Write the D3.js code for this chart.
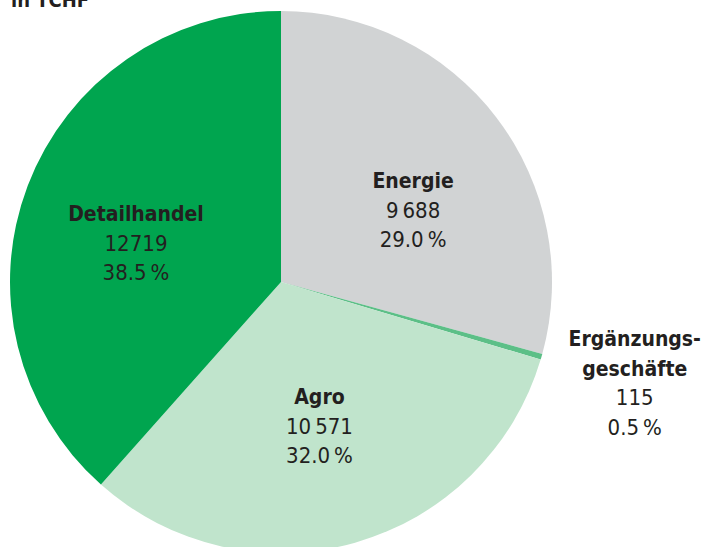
<!DOCTYPE html>
<html>
<head>
<meta charset="utf-8">
<script src="https://cdn.jsdelivr.net/npm/d3@7"></script>
<style>
  body { margin: 0; background: #fff; }
  svg text { font-family: "Liberation Sans Narrow", "DejaVu Sans Condensed", "Liberation Sans", sans-serif; fill: #231f20; }
</style>
</head>
<body>
<div class="content"></div>
<script>
const SVGWIDTH = 702
const SVGHEIGHT = 547

// data, clockwise from 12 o'clock
const categories = ["Energie", "Ergänzungsgeschäfte", "Agro", "Detailhandel"];
const labelLines = [["Energie"], ["Ergänzungs-", "geschäfte"], ["Agro"], ["Detailhandel"]];
const values = [9688, 115, 10571, 12719];
const shares = [29.0, 0.5, 32.0, 38.5];
const title = "in TCHF";

const colors = ["#d1d3d4", "#5cbf87", "#c0e4cc", "#00a54f"];

const cx = 281, cy = 282, radius = 271;
const lineH = 29.5;

const fmt = d3.formatLocale({decimal: ".", thousands: "\u2009", grouping: [3], currency: ["", ""]});
const fmtNum = v => v >= 10000 && v < 13000 && String(v).startsWith("127") ? String(v) : fmt.format(",")(v);
const fmtPct = v => d3.format(".1f")(v) + "\u2009%";

let svg = d3.select(".content").append("svg").attr("width", SVGWIDTH).attr("height", SVGHEIGHT);

// title (cut off at top in the original)
svg.append("text")
    .attr("x", 11)
    .attr("y", 7)
    .style("font-weight", "bold")
    .style("font-size", "20px")
    .text(title);

let pie = d3.pie().sort(null).value(d => d.value);
let arc = d3.arc().innerRadius(0).outerRadius(radius);

let slices = pie(categories.map((c, i) => ({name: c, value: values[i], share: shares[i], lines: labelLines[i], color: colors[i]})));

let g = svg.append("g").attr("transform", `translate(${cx},${cy})`);

g.selectAll("path")
    .data(slices)
    .join("path")
    .attr("d", arc)
    .attr("fill", d => d.data.color);

// label placement: inner labels on a ring, tiny slice outside
const innerR = 150, outerR = 368;
const angleShift = {"Energie": 9, "Agro": 1, "Detailhandel": -6, "Ergänzungsgeschäfte": 0};

let labels = g.selectAll("g.label")
    .data(slices)
    .join("g")
    .attr("class", "label")
    .attr("transform", d => {
        let small = d.data.share < 2;
        let r = small ? outerR : innerR;
        let a = (d.startAngle + d.endAngle) / 2 + angleShift[d.data.name] * Math.PI / 180;
        return `translate(${r * Math.sin(a)},${-r * Math.cos(a)})`;
    });

labels.each(function(d) {
    let rows = d.data.lines.map(t => ({t: t, bold: true}))
        .concat([{t: fmtNum(d.data.value), bold: false}, {t: fmtPct(d.data.share), bold: false}]);
    let n = rows.length;
    d3.select(this).selectAll("text")
        .data(rows)
        .join("text")
        .attr("text-anchor", "middle")
        .attr("x", 0)
        .attr("y", (r, i) => (i - (n - 1) / 2) * lineH + 7)
        .style("font-weight", r => r.bold ? "bold" : "normal")
        .style("font-size", r => r.bold ? "21px" : "22px")
        .text(r => r.t);
});
</script>
</body>
</html>
